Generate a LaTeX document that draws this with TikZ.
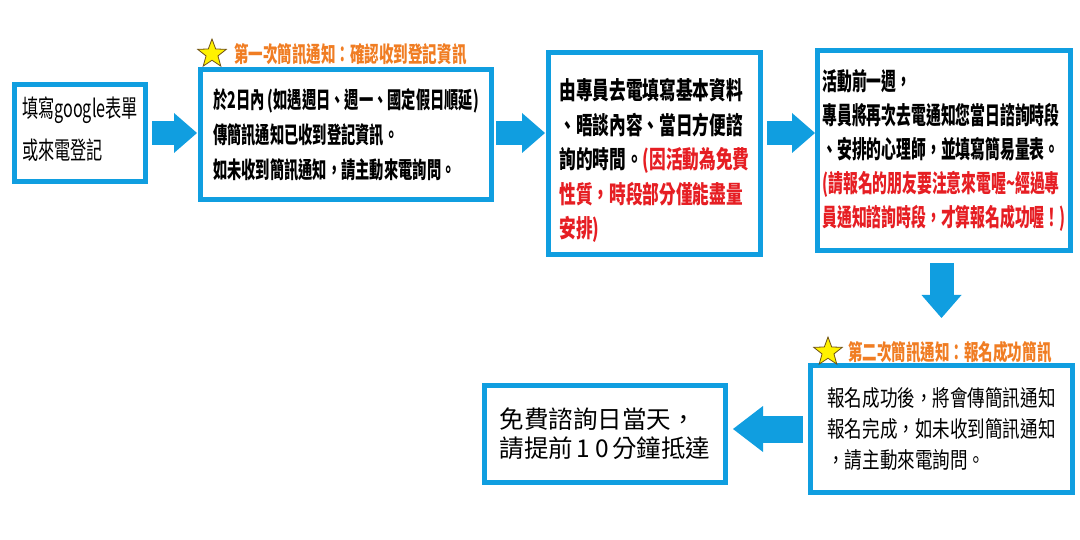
\documentclass[tikz,border=0pt]{standalone}
\usepackage{fontspec}
\setmainfont{Noto Sans CJK TC}
\newfontfamily\zhA{Noto Sans CJK TC}[FakeStretch=0.62]
\newfontfamily\zhF{Noto Sans CJK TC}[FakeStretch=0.605]
\newfontfamily\zhB{Noto Sans CJK TC}[FakeStretch=0.66]
\newfontfamily\zhE{Noto Sans CJK TC}[FakeStretch=0.68]
\newfontfamily\zhC{Noto Sans CJK TC}[FakeStretch=0.78]
\usetikzlibrary{positioning,arrows.meta,shapes.geometric}
\definecolor{flowblue}{RGB}{16,158,224}
\definecolor{noteorange}{RGB}{240,125,35}
\definecolor{notered}{RGB}{230,30,35}
\definecolor{starline}{RGB}{110,80,20}

\begin{document}
\begin{tikzpicture}[x=1pt,y=-1pt,
    box/.style={draw=flowblue,line width=5pt,fill=white,align=left,inner sep=0pt},
    flow/.style={flowblue,line width=24pt,
      -{Triangle[length=23pt,width=40pt,line width=0pt]}},
    note/.style={noteorange,inner sep=0pt,
      font=\zhB\bfseries\fontsize{22}{22}\selectfont},
    notestar/.style={star,star points=5,star point ratio=2.4,draw=starline,
      line width=0.8pt,fill=yellow,minimum size=30pt,inner sep=0pt}]
    \useasboundingbox (0,0) rectangle (1080,540);

    \node[box,minimum width=131pt,minimum height=97pt,
      font=\zhB\fontsize{24.5}{42}\selectfont] (form) at (80,133)
      {填寫google表單\\或來電登記\rule[-10pt]{0pt}{0pt}};
    \node[box,minimum width=291pt,minimum height=130pt,
      font=\zhA\bfseries\fontsize{23}{35}\selectfont] (notify) at (346,134.5)
      {於2日內 (如遇週日、週一、國定假日順延)\\
       傳簡訊通知已收到登記資訊。\\
       如未收到簡訊通知，請主動來電詢問。};
    \node[box,minimum width=212pt,minimum height=202pt,
      font=\zhE\bfseries\fontsize{24.5}{34.5}\selectfont] (call) at (654.5,153.5)
      {\rule{0pt}{36pt}由專員去電填寫基本資料\\
       、晤談內容、當日方便諮\\
       詢的時間。\textcolor{notered}{(因活動為免費}\\
       \textcolor{notered}{性質，時段部分僅能盡量}\\
       \textcolor{notered}{安排)}};
    \node[box,minimum width=253pt,minimum height=200pt,
      font=\zhF\bfseries\fontsize{24.5}{34}\selectfont] (remind) at (944,150.5)
      {活動前一週，\\
       專員將再次去電通知您當日諮詢時段\\
       、安排的心理師，並填寫簡易量表。\\
       \textcolor{notered}{(請報名的朋友要注意來電喔\textasciitilde 經過專}\\
       \textcolor{notered}{員通知諮詢時段，才算報名成功喔！)}};
    \node[box,minimum width=262pt,minimum height=127pt,
      font=\zhC\fontsize{22.5}{31}\selectfont] (done) at (941.5,429)
      {報名成功後，將會傳簡訊通知\\
       報名完成，如未收到簡訊通知\\
       ，請主動來電詢問。};
    \node[box,minimum width=241pt,minimum height=97pt,
      font=\fontsize{24.5}{29}\selectfont] (visit) at (605,434)
      {免費諮詢日當天，\\請提前\kern3pt1\kern6pt0\kern3pt 分鐘抵達};

    % sms notes
    \node[notestar] (star1) at (212,54) {};
    \node[note,right=13pt of star1] (note1) {第一次簡訊通知：確認收到登記資訊};
    \node[notestar] (star2) at (828,352) {};
    \node[note,right=11pt of star2] (note2) {第二次簡訊通知：報名成功簡訊};

    \draw[flow,shorten <=4pt,shorten >=1pt] (form.east) -- (notify.west |- form.east);
    \draw[flow,shorten <=2pt,shorten >=1pt] (notify.east |- form.east) -- (call.west |- form.east);
    \draw[flow,shorten <=4pt,shorten >=0pt] (call.east |- form.east) -- (remind.west |- form.east);
    \draw[flow,shorten <=10pt,shorten >=45pt] (remind.south -| done.north) -- (done.north);
    \draw[flow,line width=27pt,shorten <=5pt,shorten >=5pt,
      -{Triangle[length=30pt,width=46pt,line width=0pt]}]
      (done.west) -- (done.west -| visit.east);
\end{tikzpicture}
\end{document}
